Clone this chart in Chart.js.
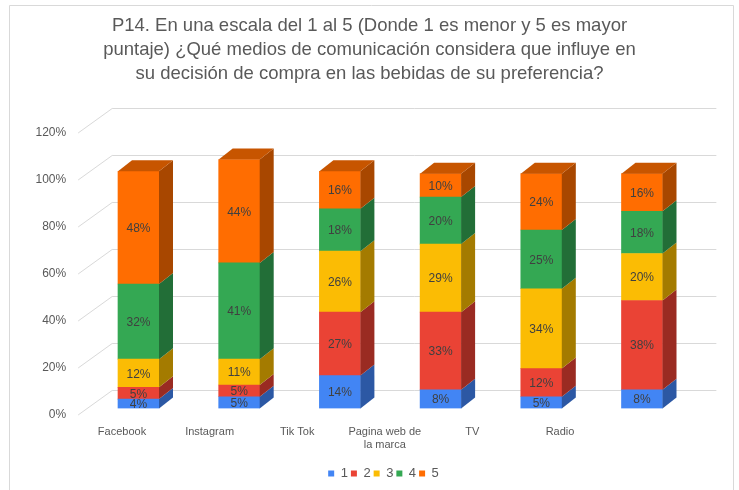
<!DOCTYPE html>
<html><head><meta charset="utf-8">
<script src="https://cdn.jsdelivr.net/npm/chart.js@4.4.1/dist/chart.umd.min.js"></script>
<style>html,body{margin:0;padding:0;background:#fff}</style>
</head><body>
<canvas id="c" width="739" height="490" style="width:739px;height:490px"></canvas>
<script>
// ---- data ----
const categories = ['Facebook', 'Instagram', 'Tik Tok', ['Pagina web de', 'la marca'], 'TV', 'Radio'];
const seriesNames = ['1', '2', '3', '4', '5'];
const score1 = [4, 5, 14, 8, 5, 8];
const score2 = [5, 5, 27, 33, 12, 38];
const score3 = [12, 11, 26, 29, 34, 20];
const score4 = [32, 41, 18, 20, 25, 18];
const score5 = [48, 44, 16, 10, 24, 16];
const yTicks = [0, 20, 40, 60, 80, 100, 120];
const titleLines = [
  'P14. En una escala del 1 al 5 (Donde 1 es menor y 5 es mayor',
  'puntaje) ¿Qué medios de comunicación considera que influye en',
  'su decisión de compra en las bebidas de su preferencia?'
];

// ---- styles ----
const FONT = "'Liberation Sans', Arial, sans-serif";
const frontColors = ['#4285F4', '#EA4335', '#FBBC04', '#34A853', '#FF6D01'];
const sideColors  = ['#2C58A4', '#9A2B22', '#A47B00', '#226E37', '#A84700'];
const topColors   = ['#3568C4', '#C0372C', '#CF9A02', '#2B8A45', '#C75500'];
const DX = 14, DY = -11;

const seriesValues = [score1, score2, score3, score4, score5];

const threeD = {
  id: 'threeD',
  afterLayout(chart) {
    if (chart.legend) { chart.legend.left += 14; chart.legend.right += 14; }
  },
  beforeDraw(chart) {
    const ctx = chart.ctx;
    ctx.save();
    ctx.fillStyle = '#fff';
    ctx.fillRect(0, 0, chart.width, chart.height);
    ctx.strokeStyle = '#d9d9d9';
    ctx.lineWidth = 1;
    ctx.beginPath();
    ctx.moveTo(9.5, chart.height + 2);
    ctx.lineTo(9.5, 5.5);
    ctx.lineTo(733.5, 5.5);
    ctx.lineTo(733.5, chart.height + 2);
    ctx.stroke();
    ctx.restore();
  },
  beforeDatasetsDraw(chart) {
    const ctx = chart.ctx, ys = chart.scales.y, ca = chart.chartArea;
    ctx.save();
    ctx.strokeStyle = '#d9d9d9';
    ctx.lineWidth = 1;
    ys.ticks.forEach(t => {
      const py = Math.round(ys.getPixelForValue(t.value));
      ctx.beginPath();
      ctx.moveTo(ca.left - 10, py + 6);
      ctx.lineTo(ca.left + 24, py - 19 + 0.5);
      ctx.lineTo(ca.right + 24, py - 19 + 0.5);
      ctx.stroke();
    });
    ctx.restore();
  },
  afterDatasetsDraw(chart) {
    const ctx = chart.ctx;
    const n = chart.data.datasets.length;
    ctx.save();
    for (let d = 0; d < n; d++) {
      const meta = chart.getDatasetMeta(d);
      meta.data.forEach(el => {
        const p = el.getProps(['x', 'y', 'base', 'width'], true);
        const r = p.x + p.width / 2, l = p.x - p.width / 2;
        ctx.fillStyle = sideColors[d];
        ctx.beginPath();
        ctx.moveTo(r, p.y);
        ctx.lineTo(r + DX, p.y + DY);
        ctx.lineTo(r + DX, p.base + DY);
        ctx.lineTo(r, p.base);
        ctx.closePath();
        ctx.fill();
        if (d === n - 1) {
          ctx.fillStyle = topColors[d];
          ctx.beginPath();
          ctx.moveTo(l, p.y);
          ctx.lineTo(l + DX, p.y + DY);
          ctx.lineTo(r + DX, p.y + DY);
          ctx.lineTo(r, p.y);
          ctx.closePath();
          ctx.fill();
        }
      });
    }
    ctx.fillStyle = '#404040';
    ctx.font = '12px ' + FONT;
    ctx.textAlign = 'center';
    ctx.textBaseline = 'middle';
    for (let d = 0; d < n; d++) {
      const meta = chart.getDatasetMeta(d);
      meta.data.forEach((el, i) => {
        const p = el.getProps(['x', 'y', 'base'], true);
        const v = chart.data.datasets[d].data[i];
        ctx.fillText(v + '%', p.x, (p.y + p.base) / 2 + 1);
      });
    }
    ctx.restore();
  }
};

const LABEL_MIN = -0.3864, LABEL_MAX = 6.5109;

new Chart(document.getElementById('c'), {
  type: 'bar',
  data: {
    labels: categories.map((c, i) => i),
    datasets: seriesNames.map((name, d) => ({
      label: name,
      data: seriesValues[d],
      backgroundColor: frontColors[d],
      borderWidth: 0,
      barThickness: 41
    }))
  },
  options: {
    responsive: false,
    devicePixelRatio: 1,
    animation: false,
    layout: { padding: { left: 0, right: 0, top: 0, bottom: 0 } },
    plugins: {
      title: {
        display: true,
        text: titleLines,
        color: '#595959',
        font: { family: FONT, size: 18.5, weight: 'normal', lineHeight: 1.3 },
        padding: { top: 14, bottom: 40.5 }
      },
      legend: {
        position: 'bottom',
        labels: {
          boxWidth: 6, boxHeight: 6, padding: 3,
          color: '#595959',
          font: { family: FONT, size: 13 }
        }
      },
      tooltip: { enabled: false }
    },
    scales: {
      x: {
        stacked: true,
        display: false,
        offset: true
      },
      xl: {
        axis: 'x',
        type: 'linear',
        position: 'bottom',
        offset: false,
        bounds: 'data',
        min: LABEL_MIN,
        max: LABEL_MAX,
        afterBuildTicks: s => { s.ticks = categories.map((c, i) => ({ value: i })); },
        afterFit: s => { s.height = 55.5; },
        grid: { display: false, drawTicks: false },
        border: { display: false },
        ticks: {
          padding: 17,
          autoSkip: false,
          maxRotation: 0,
          color: '#595959',
          font: { family: FONT, size: 11 },
          callback: v => categories[v]
        }
      },
      y: {
        stacked: true,
        min: 0,
        max: 120,
        afterBuildTicks: s => { s.ticks = yTicks.map(v => ({ value: v })); },
        afterFit: s => { s.width = 88.15; },
        grid: { display: false, drawTicks: false },
        border: { display: false },
        ticks: {
          padding: 22,
          labelOffset: 6,
          color: '#595959',
          font: { family: FONT, size: 12 },
          callback: v => v + '%'
        }
      },
      yr: {
        axis: 'y',
        type: 'linear',
        position: 'right',
        display: true,
        afterFit: s => { s.width = 46.65; },
        grid: { display: false, drawTicks: false },
        border: { display: false },
        ticks: { display: false }
      }
    }
  },
  plugins: [threeD]
});
</script>
</body></html>
